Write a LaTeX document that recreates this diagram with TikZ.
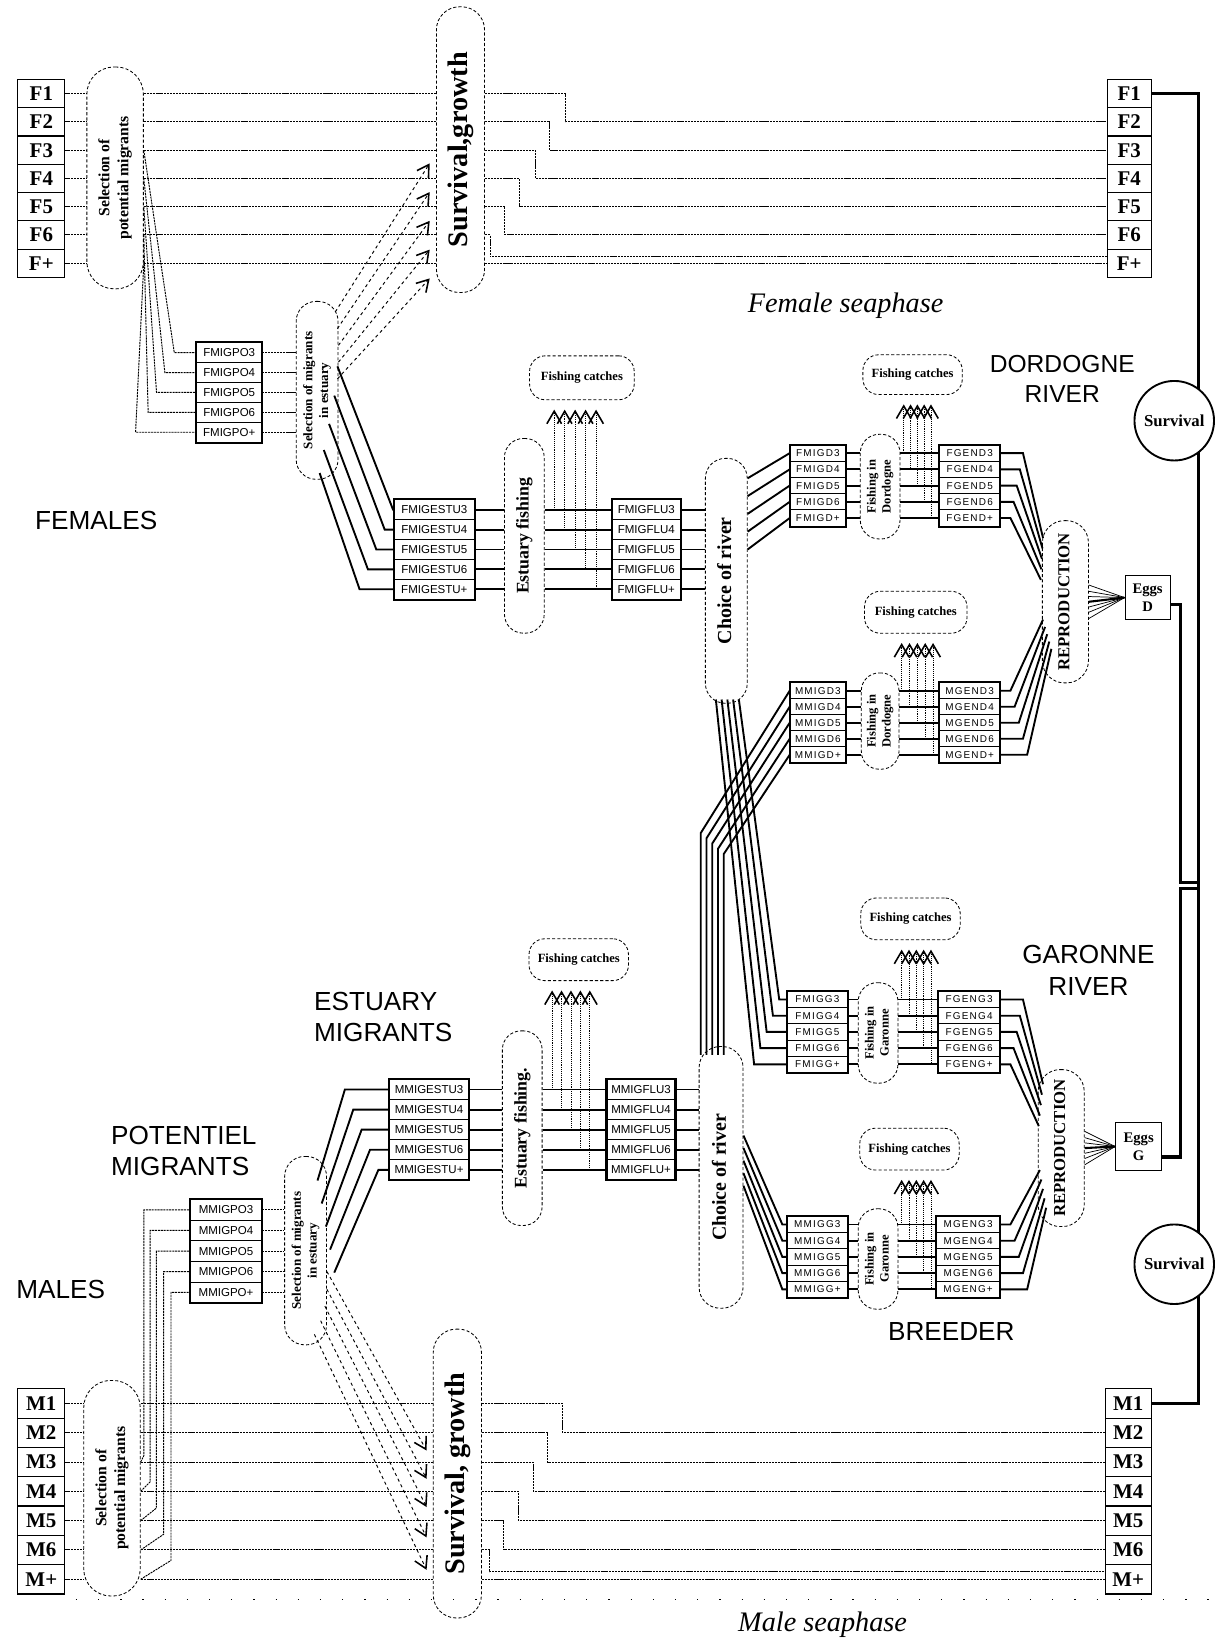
\documentclass[tikz,border=0pt]{standalone}
\usepackage{fontspec}
\setmainfont{Liberation Serif}
\setsansfont{Liberation Sans}
\newfontfamily\spacedsans[LetterSpace=12]{Liberation Sans}
\usepackage{graphicx}
\usetikzlibrary{arrows.meta}

\newcommand\fsz[1]{\fontsize{#1pt}{1.2\dimexpr #1pt\relax}\selectfont}
\newcommand\vtext[1]{\rotatebox{90}{\begin{tabular}{@{}c@{}}#1\end{tabular}}}

\begin{document}
\begin{tikzpicture}[x=1pt, y=-1pt,
  agebox/.style={draw, line width=1.1pt, minimum width=45pt, inner sep=0pt, font=\fsz{20}\bfseries},
  cell/.style={draw, line width=0.9pt, inner sep=0pt, font=\sffamily\fsz{11}},
  rcell/.style={draw, line width=0.9pt, inner sep=0pt, minimum height=15.5pt, font=\spacedsans\fsz{9.5}},
  proc/.style={draw, densely dashed, line width=0.8pt, inner sep=1pt},
  thinln/.style={dash pattern=on 2pt off 0.8pt, line width=0.9pt},
  thickln/.style={line width=1.8pt},
  grpframe/.style={line width=2pt},
  dasharr/.style={dashed, line width=0.9pt, -{Straight Barb[length=11pt, width=13pt, line width=1.5pt]}},
  catcharr/.style={densely dotted, line width=0.8pt, shorten >=9pt, -{Straight Barb[length=12pt, width=14pt, line width=1.5pt]}},
  bigtxt/.style={font=\sffamily\fsz{25}, align=left, inner sep=0pt},
  seatxt/.style={font=\itshape\fsz{27}},
  loopln/.style={line width=3pt}]

\useasboundingbox (0,0) rectangle (1163,1568);

% female sea phase
\foreach \a [count=\i] in {1,2,3,4,5,6,+} {
  \node[agebox, minimum height=27pt] (fl\i) at (39.5, 62.5+27*\i) {F\a};
  \node[agebox, minimum height=27pt, minimum width=42pt] (fr\i) at (1079, 62.5+27*\i) {F\a};
}
\node[proc, minimum width=54pt, minimum height=212pt, rounded corners=26pt, font=\fsz{15}\bfseries] (selF) at (110,170) {\vtext{Selection of\\potential migrants}};
\node[proc, minimum width=46pt, minimum height=273pt, rounded corners=22pt, font=\fsz{27}\bfseries] (survF) at (440,143) {\vtext{Survival,growth}};
\node[seatxt] (seaF) at (808,292) {Female seaphase};

\foreach \i in {1,...,7} {
  \draw[thinln] (fl\i.east) -- (selF.west |- fl\i.east);
  \draw[thinln] (selF.east |- fl\i.east) -- (survF.west |- fl\i.east);
}
\foreach \i/\dx in {1/77,2/62,3/48,4/33,5/19} {
  \pgfmathtruncatemacro\j{\i+1}
  \draw[thinln] (survF.east |- fl\i.east) -- ++(\dx,0) |- (fr\j.west);
}
\draw[thinln] (survF.east |- fl6.east) -- ++(5,0) |- ([yshift=6]fr7.west);
\draw[thinln] (survF.east |- fl7.east) -- (fr7.west);

% female migration boxes
\foreach \a [count=\k from 0] in {3,4,5,6,+} {
  \node[cell, minimum width=62pt, minimum height=19pt] (fpo\k) at (219, 337+19*\k) {FMIGPO\a};
  \node[cell, minimum width=76pt, minimum height=19pt] (fes\k) at (415, 487+19*\k) {FMIGESTU\a};
  \node[cell, minimum width=65pt, minimum height=19pt] (ffl\k) at (617.5, 487+19*\k) {FMIGFLU\a};
  \node[rcell, minimum width=53pt] (fmd\k) at (781.5, 433+15.5*\k) {FMIGD\a};
  \node[rcell, minimum width=57pt] (fgd\k) at (926.5, 433+15.5*\k) {FGEND\a};
  \node[rcell, minimum width=58pt] (fmg\k) at (781, 955+15.5*\k) {FMIGG\a};
  \node[rcell, minimum width=58pt] (fgg\k) at (926, 955+15.5*\k) {FGENG\a};
}
\node[proc, minimum width=40pt, minimum height=170pt, rounded corners=19pt, font=\fsz{12.5}\bfseries] (selEF) at (303,373) {\vtext{Selection of migrants\\in estuary}};
\node[proc, minimum width=38pt, minimum height=186pt, rounded corners=18pt, font=\fsz{17}\bfseries] (estF) at (501,512) {\vtext{Estuary fishing}};
\node[proc, minimum width=100pt, minimum height=42pt, rounded corners=15pt, font=\fsz{12}\bfseries] (fcF) at (556,361) {Fishing catches};
\node[proc, minimum width=40pt, minimum height=234pt, rounded corners=19pt, font=\fsz{19}\bfseries] (chF) at (694,555) {\vtext{Choice of river}};
\node[proc, minimum width=38pt, minimum height=100pt, rounded corners=18pt, font=\fsz{12}\bfseries] (fdF) at (841,465) {\vtext{Fishing in\\Dordogne}};
\node[proc, minimum width=95pt, minimum height=38pt, rounded corners=15pt, font=\fsz{12}\bfseries] (fcFD) at (872,358) {Fishing catches};
\node[proc, minimum width=38pt, minimum height=96pt, rounded corners=18pt, font=\fsz{12}\bfseries] (fgF) at (839,987) {\vtext{Fishing in\\Garonne}};
\node[proc, minimum width=95pt, minimum height=40pt, rounded corners=15pt, font=\fsz{12}\bfseries] (fcFG) at (870,878) {Fishing catches};

% selection -> potential migrants -> estuary
\foreach \k/\cx in {0/-21,1/-30,2/-38,3/-46,4/-58} {
  \pgfmathtruncatemacro\r{\k+3}
  \draw[thinln] (selF.east |- fl\r.east) -- ([xshift=\cx]fpo\k.west) -- (fpo\k.west);
}
\foreach \k in {0,...,4} \draw[thinln] (fpo\k.east) -- (selEF.west |- fpo\k.east);
\foreach \sx/\sy/\ey in {-3/75/-13,-1/59/-40.5,0/43/-68,0/27/-95.5,-1/11/-123}
  \draw[dasharr] ([xshift=\sx, yshift=\sy]selEF.east) -- ([xshift=-6, yshift=\ey]survF.west);
\foreach \k/\sx/\sy/\cx in {0/-1/23/-1,1/-4/-5/-9,2/-9/-32/-17,3/-14/-57/-25,4/-18/-79/-33}
  \draw[thickln] ([xshift=\sx, yshift=\sy]selEF.east) -- ([xshift=\cx]fes\k.west) -- (fes\k.west);

\foreach \k in {0,...,4} {
  \draw[thickln] (fes\k.east) -- (estF.west |- fes\k.east);
  \draw[thickln] (estF.east |- ffl\k.west) -- (ffl\k.west);
  \draw[thickln] (ffl\k.east) -- (chF.west |- ffl\k.east);
  \coordinate (cfe\k) at ([xshift={-55+10*\k}]ffl\k.west);
  \draw[catcharr] (cfe\k) -- (cfe\k |- fcF.south);
}

% female Dordogne
\foreach \k/\sy in {0/98,1/81,2/64,3/47,4/30}
  \draw[thickln] ([yshift=\sy]chF.east) -- (fmd\k.west);
\foreach \k in {0,...,4} {
  \draw[thickln] (fmd\k.east) -- (fdF.west |- fmd\k.east);
  \draw[thickln] (fdF.east |- fgd\k.west) -- (fgd\k.west);
  \coordinate (cfd\k) at ([xshift={-34+6.5*\k}]fgd\k.west);
  \draw[catcharr] (cfd\k) -- (cfd\k |- fcFD.south);
}

% female Garonne
\foreach \k/\sx in {0/12,1/6.5,2/1,3/-4.5,4/-10}
  \draw[thickln] ([xshift=\sx, yshift=4]chF.south) -- ([xshift={-7-6*\k}]fmg\k.west) -- (fmg\k.west);
\foreach \k in {0,...,4} {
  \draw[thickln] (fmg\k.east) -- (fgF.west |- fmg\k.east);
  \draw[thickln] (fgF.east |- fgg\k.west) -- (fgg\k.west);
  \coordinate (cfg\k) at ([xshift={-35+7*\k}]fgg\k.west);
  \draw[catcharr] (cfg\k) -- (cfg\k |- fcFG.south);
}

% male sea phase
\foreach \a [count=\i] in {1,2,3,4,5,6,+} {
  \node[agebox, minimum height=28pt] (ml\i) at (39.5, 1313+28*\i) {M\a};
  \node[agebox, minimum height=28pt, minimum width=44pt] (mr\i) at (1078, 1313+28*\i) {M\a};
}
\node[proc, minimum width=54pt, minimum height=206pt, rounded corners=26pt, font=\fsz{15}\bfseries] (selM) at (107,1422) {\vtext{Selection of\\potential migrants}};
\node[proc, minimum width=46pt, minimum height=276pt, rounded corners=22pt, font=\fsz{27}\bfseries] (survM) at (437,1408) {\vtext{Survival, growth}};
\node[seatxt] (seaM) at (786,1552) {Male seaphase};

\foreach \i in {1,...,7} {
  \draw[thinln] (ml\i.east) -- (selM.west |- ml\i.east);
  \draw[thinln] (selM.east |- ml\i.east) -- (survM.west |- ml\i.east);
}
\foreach \i/\dx in {1/77,2/63,3/49,4/35,5/21} {
  \pgfmathtruncatemacro\j{\i+1}
  \draw[thinln] (survM.east |- ml\i.east) -- ++(\dx,0) |- (mr\j.west);
}
\draw[thinln] (survM.east |- ml6.east) -- ++(7,0) |- ([yshift=7]mr7.west);
\draw[thinln] (survM.east |- ml7.east) -- (mr7.west);
\draw[dash pattern=on 1.2pt off 20pt, line width=1pt] (ml7.south east) ++(10,5) -- ++(1090,0);

% male migration boxes
\foreach \a [count=\k from 0] in {3,4,5,6,+} {
  \node[cell, minimum width=68pt, minimum height=19.7pt] (mpo\k) at (216, 1156+19.7*\k) {MMIGPO\a};
  \node[cell, minimum width=76pt, minimum height=19.2pt] (mes\k) at (410, 1041+19.2*\k) {MMIGESTU\a};
  \node[cell, minimum width=65pt, minimum height=19.2pt] (mfl\k) at (612.5, 1041+19.2*\k) {MMIGFLU\a};
  \node[rcell, minimum width=53pt, minimum height=15.3pt] (mmd\k) at (781.5, 660+15.3*\k) {MMIGD\a};
  \node[rcell, minimum width=57pt, minimum height=15.3pt] (mgd\k) at (926.5, 660+15.3*\k) {MGEND\a};
  \node[rcell, minimum width=58pt] (mmg\k) at (781, 1170+15.5*\k) {MMIGG\a};
  \node[rcell, minimum width=60pt] (mgg\k) at (925, 1170+15.5*\k) {MGENG\a};
}
\node[proc, minimum width=40pt, minimum height=180pt, rounded corners=19pt, font=\fsz{12.5}\bfseries] (selEM) at (292,1195) {\vtext{Selection of migrants\\in estuary}};
\node[proc, minimum width=38pt, minimum height=186pt, rounded corners=18pt, font=\fsz{17}\bfseries] (estM) at (499,1078) {\vtext{Estuary fishing.}};
\node[proc, minimum width=95pt, minimum height=40pt, rounded corners=15pt, font=\fsz{12}\bfseries] (fcME) at (553,917) {Fishing catches};
\node[proc, minimum width=42pt, minimum height=250pt, rounded corners=20pt, font=\fsz{19}\bfseries] (chM) at (689,1125) {\vtext{Choice of river}};
\node[proc, minimum width=36pt, minimum height=92pt, rounded corners=17pt, font=\fsz{12}\bfseries] (fdM) at (841,689) {\vtext{Fishing in\\Dordogne}};
\node[proc, minimum width=98pt, minimum height=40pt, rounded corners=15pt, font=\fsz{12}\bfseries] (fcMD) at (875,585) {Fishing catches};
\node[proc, minimum width=38pt, minimum height=96pt, rounded corners=18pt, font=\fsz{12}\bfseries] (fgM) at (839,1203) {\vtext{Fishing in\\Garonne}};
\node[proc, minimum width=95pt, minimum height=40pt, rounded corners=15pt, font=\fsz{12}\bfseries] (fcMG) at (869,1098) {Fishing catches};

% male selection -> potential migrants -> estuary
\foreach \k/\dx/\dy in {0/3/6,1/9/9,2/15/12,3/22/15,4/29/18} {
  \pgfmathtruncatemacro\r{\k+3}
  \draw[thinln] (selM.east |- ml\r.east) -- ++(\dx,-\dy) |- (mpo\k.west);
}
\foreach \k in {0,...,4} \draw[thinln] (mpo\k.east) -- (selEM.west |- mpo\k.east);
\foreach \sx/\sy/\ey in {0/-20/22,0/-37/-5,-2/-53/-32,-6/-67/-61,-12/-80/-92}
  \draw[dasharr] ([xshift=\sx, yshift=\sy]selEM.east) -- ([xshift=-6, yshift=\ey]survM.west);
\foreach \k/\sx/\sy/\cx in {0/-9/67/-42,1/-5/45/-34,2/-1/23/-26,3/3/1/-18,4/7/-21/-10}
  \draw[thickln] ([xshift=\sx, yshift=\sy]selEM.east) -- ([xshift=\cx]mes\k.west) -- (mes\k.west);

\foreach \k in {0,...,4} {
  \draw[thickln] (mes\k.east) -- (estM.west |- mes\k.east);
  \draw[thickln] (estM.east |- mfl\k.west) -- (mfl\k.west);
  \draw[thickln] (mfl\k.east) -- (chM.west |- mfl\k.east);
  \coordinate (cme\k) at ([xshift={-52+9*\k}]mfl\k.west);
  \draw[catcharr] (cme\k) -- (cme\k |- fcME.south);
}

% male Dordogne
\foreach \k in {0,...,4} {
  \draw[thickln] (mmd\k.west) -- ++({-85+5.5*\k},{136-10.3*\k}) -- ++(0,{212-5*\k});
  \draw[thickln] (mmd\k.east) -- (fdM.west |- mmd\k.east);
  \draw[thickln] (fdM.east |- mgd\k.west) -- (mgd\k.west);
  \coordinate (cmd\k) at ([xshift={-36+7.5*\k}]mgd\k.west);
  \draw[catcharr] (cmd\k) -- (cmd\k |- fcMD.south);
}

% male Garonne
\foreach \k/\sy in {0/40,1/28,2/16,3/4,4/-8}
  \draw[thickln] ([yshift=\sy]chM.east) -- ([xshift=-4]mmg\k.west) -- (mmg\k.west);
\foreach \k in {0,...,4} {
  \draw[thickln] (mmg\k.east) -- (fgM.west |- mmg\k.east);
  \draw[thickln] (fgM.east |- mgg\k.west) -- (mgg\k.west);
  \coordinate (cmg\k) at ([xshift={-33+7*\k}]mgg\k.west);
  \draw[catcharr] (cmg\k) -- (cmg\k |- fcMG.south);
}

% reproduction
\node[proc, minimum width=44pt, minimum height=155pt, rounded corners=21pt, font=\fsz{16}\bfseries] (repD) at (1018,575) {\vtext{REPRODUCTION}};
\node[proc, minimum width=44pt, minimum height=150pt, rounded corners=21pt, font=\fsz{16}\bfseries] (repG) at (1014,1097) {\vtext{REPRODUCTION}};
\node[draw, line width=1pt, minimum width=43pt, minimum height=42pt, inner sep=0pt, align=center, font=\fsz{14}\bfseries] (eggD) at (1096.5,571) {Eggs\\D};
\node[draw, line width=1pt, minimum width=44pt, minimum height=45pt, inner sep=0pt, align=center, font=\fsz{14}\bfseries] (eggG) at (1088,1095.5) {Eggs\\G};

\foreach \k in {0,...,4} {
  \draw[thickln] (fgd\k.east) -- ([xshift={22-3*\k}]fgd\k.east) -- ([xshift={1-0.5*\k}, yshift={61-10*\k}]repD.west);
  \draw[thickln] (mgd\k.east) -- ([xshift={10+4*\k}]mgd\k.east) -- ([xshift={1+2*\k}, yshift={-17-7*\k}]repD.west);
  \draw[thickln] (fgg\k.east) -- ([xshift={22-3*\k}]fgg\k.east) -- ([xshift={5-\k}, yshift={61-10*\k}]repG.west);
  \draw[thickln] (mgg\k.east) -- ([xshift={10+4*\k}]mgg\k.east) -- ([xshift={2+1.5*\k}, yshift={-21-9*\k}]repG.west);
}
\foreach \s in {-16,-10,-5,5,10,16} {
  \draw[line width=0.7pt] ([yshift=\s]repD.east) -- (eggD.west);
  \draw[line width=0.7pt] ([yshift=\s]repG.east) -- (eggG.west);
}
\draw[line width=2pt] (repD.east) -- (eggD.west);
\draw[line width=2pt] (repG.east) -- (eggG.west);

\foreach \g in {fpo,fes,ffl,fmd,fgd,fmg,fgg,mpo,mes,mfl,mmd,mgd,mmg,mgg}
  \draw[grpframe] (\g0.north west) rectangle (\g4.south east);

% survival loop
\coordinate (jD) at (1145,843);
\coordinate (jG) at (1145,849);
\draw[loopln] (fr1.east) -| ([xshift=45]mr1.east) -- (mr1.east);
\draw[loopln] ([yshift=-7]eggD.east) -| ([xshift=-17]jD) -- (jD);
\draw[loopln] ([yshift=-10]eggG.east) -| ([xshift=-17]jG) -- (jG);
\node[circle, draw, line width=1.8pt, fill=white, minimum size=76pt, inner sep=0pt, font=\fsz{16}\bfseries] (svD) at (1122,402) {Survival};
\node[circle, draw, line width=1.8pt, fill=white, minimum size=76pt, inner sep=0pt, font=\fsz{16}\bfseries] (svG) at (1122,1208) {Survival};

% labels
\node[bigtxt] (femlab) at (92,497) {FEMALES};
\node[bigtxt, align=center, font=\sffamily\fsz{23.5}] (dorlab) at (1015,362) {DORDOGNE\\RIVER};
\node[bigtxt, align=center] (garlab) at (1040,927) {GARONNE\\RIVER};
\node[bigtxt, anchor=west] (estlab) at (300,972) {ESTUARY\\MIGRANTS};
\node[bigtxt, anchor=west] (potlab) at (106,1100) {POTENTIEL\\MIGRANTS};
\node[bigtxt] (malab) at (58,1232) {MALES};
\node[bigtxt] (brlab) at (909,1272) {BREEDER};
\end{tikzpicture}
\end{document}
